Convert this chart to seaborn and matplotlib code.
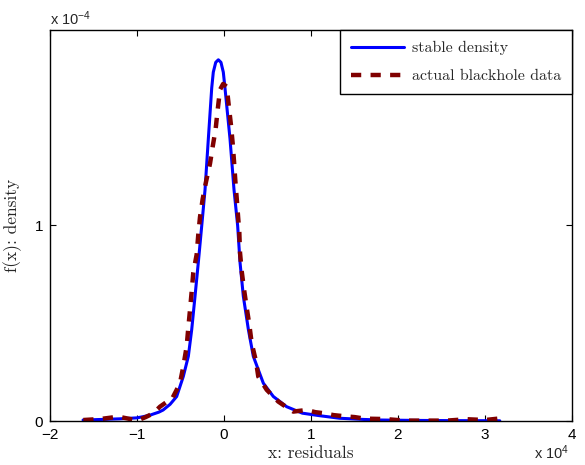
import matplotlib
matplotlib.use("Agg")
import matplotlib.pyplot as plt
import pandas as pd
import seaborn as sns

# values; x in units of 1e4, y in units of 1e-4
stable_x = [-1.62, -1.4, -1.2, -1.0, -0.93, -0.85, -0.75, -0.70, -0.62, -0.544,
            -0.468, -0.41, -0.371, -0.333, -0.295, -0.256, -0.218, -0.18, -0.141,
            -0.123, -0.095, -0.065, -0.035, -0.008, 0.011, 0.069, 0.115, 0.157,
            0.184, 0.222, 0.28, 0.337, 0.452, 0.567, 0.72, 0.9, 1.1, 1.33, 1.6,
            1.8, 2.2, 2.6, 3.0, 3.17]
stable_y = [0.005, 0.008, 0.011, 0.016, 0.022, 0.03, 0.045, 0.056, 0.085, 0.125,
            0.227, 0.33, 0.467, 0.637, 0.81, 0.996, 1.18, 1.44, 1.70,
            1.78, 1.83, 1.843, 1.83, 1.78, 1.70, 1.44, 1.18, 0.996,
            0.81, 0.637, 0.467, 0.33, 0.193, 0.125, 0.073, 0.04, 0.027, 0.014, 0.008,
            0.005, 0.003, 0.002, 0.0015, 0.001]

data_x = [-1.617, -1.425, -1.215, -1.1, -1.0, -0.9, -0.813, -0.736, -0.65, -0.601,
          -0.544, -0.506, -0.468, -0.429, -0.41, -0.39, -0.371, -0.353, -0.314,
          -0.295, -0.276, -0.245, -0.207, -0.161, -0.13, -0.096, -0.073, -0.046,
          -0.01, 0.031, 0.057, 0.08, 0.10, 0.115, 0.13, 0.146, 0.161, 0.176, 0.184,
          0.203, 0.23, 0.261, 0.291, 0.318, 0.368, 0.394, 0.491, 0.624, 0.72, 0.797,
          0.87, 0.951, 1.05, 1.14, 1.26, 1.39, 1.5, 1.62, 1.85, 2.08, 2.33, 2.56,
          2.79, 3.0, 3.17]
data_y = [0.005, 0.01, 0.022, 0.012, 0.002, 0.02, 0.039, 0.073, 0.10, 0.11,
          0.159, 0.193, 0.278, 0.381, 0.477, 0.57, 0.663, 0.757, 0.85,
          0.954, 1.04, 1.133, 1.22, 1.313, 1.40, 1.49, 1.586, 1.69,
          1.72, 1.706, 1.60, 1.51, 1.415, 1.325, 1.227, 1.137, 1.048, 0.963, 0.86,
          0.766, 0.672, 0.578, 0.492, 0.398, 0.304, 0.227, 0.159, 0.099, 0.07, 0.048,
          0.052, 0.056, 0.045, 0.04, 0.03, 0.024, 0.02, 0.012, 0.01, 0.002, 0.002, 0.002,
          0.009, 0.005, 0.013]

x_ticks = [-2, -1, 0, 1, 2, 3, 4]
y_ticks = [0, 1]

stable = pd.DataFrame({"x": stable_x, "y": stable_y})
actual = pd.DataFrame({"x": data_x, "y": data_y})

sns.set_theme(style="ticks")
plt.rcParams["font.family"] = ["Liberation Sans", "DejaVu Sans"]
plt.rcParams["mathtext.default"] = "regular"
plt.rcParams["xtick.direction"] = "in"
plt.rcParams["ytick.direction"] = "in"

fig = plt.figure(figsize=(5.85, 4.65), dpi=100)
ax = fig.add_axes([50 / 585, 44 / 465, 522 / 585, 391 / 465])

sns.lineplot(data=stable, x="x", y="y", ax=ax, color="#0000ff", lw=2.2,
             sort=False, estimator=None, label="stable density")
sns.lineplot(data=actual, x="x", y="y", ax=ax, color="#800000", lw=3.2,
             sort=False, estimator=None, label="actual blackhole data",
             linestyle=(0, (2.3, 2.1)))

ax.set_xlim(-2, 4)
ax.set_ylim(0, 1.995)
ax.set_xticks(x_ticks)
ax.set_yticks(y_ticks)
ax.set_xticklabels([str(t).replace("-", "\u2212") for t in x_ticks])
ax.set_yticklabels([str(t) for t in y_ticks])
ax.tick_params(axis="both", which="both", top=True, right=True, length=4,
               width=0.8, labelsize=11, pad=5, colors="black")
for s in ax.spines.values():
    s.set_visible(True)
    s.set_color("black")
    s.set_linewidth(1.0)

ax.set_xlabel("x: residuals", family="cmr10", fontsize=12.5, labelpad=3)
ax.set_ylabel("f(x): density", family="cmr10", fontsize=12.5, labelpad=9)

ax.text(0, 1.013, "x 10$^{-4}$", transform=ax.transAxes, fontsize=10.5,
        ha="left", va="baseline")
ax.text(0.995, -0.098, "x 10$^{4}$", transform=ax.transAxes, fontsize=10.5,
        ha="right", va="baseline")

leg = ax.legend(loc="upper right", borderaxespad=0, fancybox=False,
                edgecolor="black", framealpha=1, handlelength=3.3,
                labelspacing=0.85, borderpad=0.7, handletextpad=0.5,
                prop={"family": "cmr10", "size": 11.5})
leg.get_frame().set_linewidth(1.0)

fig.savefig("out.png", dpi=100)
